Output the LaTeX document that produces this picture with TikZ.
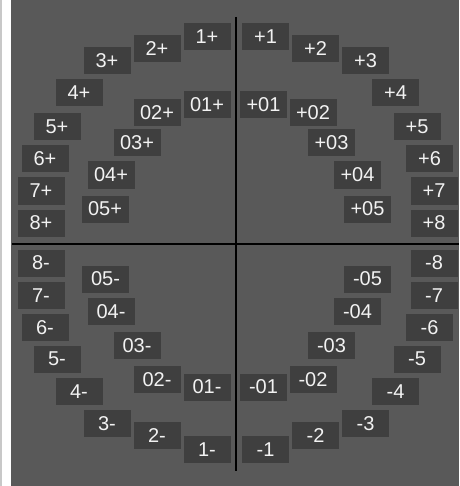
\documentclass[tikz,border=0pt]{standalone}
\usepackage{fontspec}
\setmainfont{Liberation Sans}
\usepackage{xcolor}
\usepackage{tikz}
\usetikzlibrary{positioning}

\definecolor{panelgray}{HTML}{595959}
\definecolor{tagdark}{HTML}{3F3F3F}
\definecolor{tagtext}{HTML}{F2F2F2}
\definecolor{edgegray}{HTML}{C8C8C8}

\tikzset{
    tag/.style={fill=tagdark, text=tagtext, minimum width=47pt, minimum height=27pt, inner sep=0pt, font=\fontsize{20}{20}\selectfont},
    axis/.style={black, line width=1.6pt}
}

\begin{document}
\begin{tikzpicture}[x=1pt, y=-1pt]
        \useasboundingbox (0, 0) rectangle (459, 486);
        \fill[edgegray] (0, 0) rectangle (2, 486);
        \fill[white] (2, 0) rectangle (11, 486);
        \fill[panelgray] (11, 0) rectangle (459, 486);

        % Axes
        \coordinate (vtop) at (236, 17);
        \coordinate (vbot) at (236, 471);
        \coordinate (hleft) at (12, 244);
        \coordinate (hright) at (459, 244);
        \draw[axis] (vtop) -- (vbot);
        \draw[axis] (hleft) -- (hright);

        % Upper left, outer ring
        \node[tag] (ul1) at (207, 37) {1+};
        \node[tag] (ul2) at (157, 49) {2+};
        \node[tag] (ul3) at (107, 61) {3+};
        \node[tag] (ul4) at (79, 93) {4+};
        \node[tag] (ul5) at (57, 127) {5+};
        \node[tag] (ul6) at (45, 159) {6+};
        \node[tag] (ul7) at (41, 191) {7+};
        \node[tag] (ul8) at (41, 223) {8+};
        % Upper left, inner ring
        \node[tag] (ul01) at (207, 105) {01+};
        \node[tag] (ul02) at (157, 113) {02+};
        \node[tag] (ul03) at (137, 143) {03+};
        \node[tag] (ul04) at (111, 175) {04+};
        \node[tag] (ul05) at (105, 209) {05+};

        % Upper right, outer ring
        \node[tag] (ur1) at (265.5, 37) {+1};
        \node[tag] (ur2) at (315.5, 49) {+2};
        \node[tag] (ur3) at (365.5, 61) {+3};
        \node[tag] (ur4) at (395.5, 93) {+4};
        \node[tag] (ur5) at (417, 127) {+5};
        \node[tag] (ur6) at (429.5, 159) {+6};
        \node[tag] (ur7) at (434, 191) {+7};
        \node[tag] (ur8) at (434, 223) {+8};
        % Upper right, inner ring
        \node[tag] (ur01) at (263.5, 105) {+01};
        \node[tag] (ur02) at (313, 113) {+02};
        \node[tag] (ur03) at (331.5, 143) {+03};
        \node[tag] (ur04) at (357.5, 175) {+04};
        \node[tag] (ur05) at (367.5, 209) {+05};

        % Lower left, outer ring
        \node[tag] (ll8) at (41, 263) {8-};
        \node[tag] (ll7) at (41, 295.5) {7-};
        \node[tag] (ll6) at (45, 327.5) {6-};
        \node[tag] (ll5) at (57, 359) {5-};
        \node[tag] (ll4) at (79, 391.5) {4-};
        \node[tag] (ll3) at (107, 423.5) {3-};
        \node[tag] (ll2) at (157, 435.5) {2-};
        \node[tag] (ll1) at (207, 449.5) {1-};
        % Lower left, inner ring
        \node[tag] (ll05) at (105.5, 279) {05-};
        \node[tag] (ll04) at (111, 311.5) {04-};
        \node[tag] (ll03) at (137, 345.5) {03-};
        \node[tag] (ll02) at (157, 379.5) {02-};
        \node[tag] (ll01) at (207, 387) {01-};

        % Lower right, outer ring
        \node[tag] (lr8) at (434, 263) {-8};
        \node[tag] (lr7) at (434, 295.5) {-7};
        \node[tag] (lr6) at (429.5, 327.5) {-6};
        \node[tag] (lr5) at (417, 359) {-5};
        \node[tag] (lr4) at (395.5, 391.5) {-4};
        \node[tag] (lr3) at (365.5, 423.5) {-3};
        \node[tag] (lr2) at (315.5, 435.5) {-2};
        \node[tag] (lr1) at (265.5, 449.5) {-1};
        % Lower right, inner ring
        \node[tag] (lr05) at (367.5, 279) {-05};
        \node[tag] (lr04) at (357.5, 311.5) {-04};
        \node[tag] (lr03) at (331.5, 345.5) {-03};
        \node[tag] (lr02) at (313, 379.5) {-02};
        \node[tag] (lr01) at (263.5, 387) {-01};
    \end{tikzpicture}
\end{document}
